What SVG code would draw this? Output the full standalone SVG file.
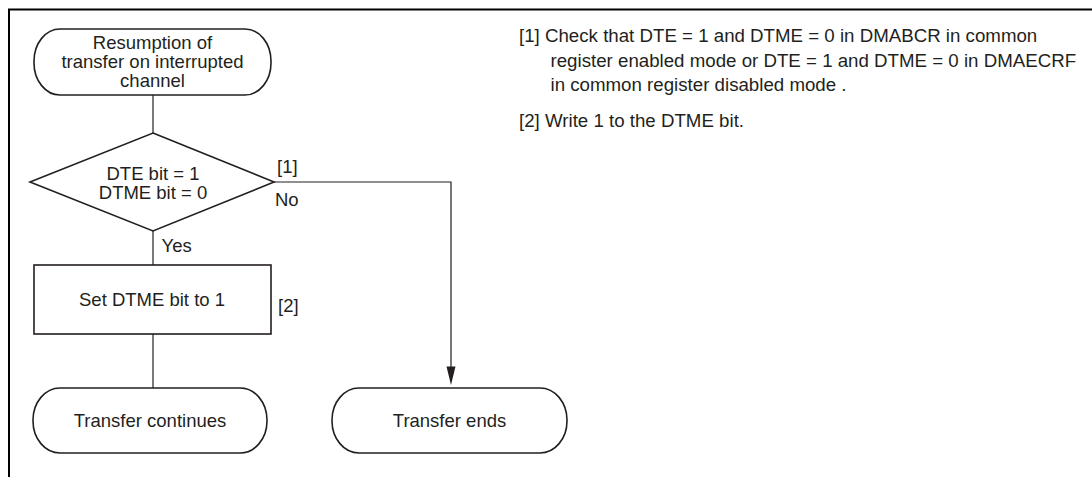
<svg xmlns="http://www.w3.org/2000/svg" width="1092" height="477" viewBox="0 0 1092 477">
<style>
text{font-family:"Liberation Sans",Arial,Helvetica,sans-serif;font-size:18.5px;fill:#231f20}
.c{text-anchor:middle}
.n{font-size:18.7px}
.shape{fill:#fff;stroke:#231f20;stroke-width:1.6}
.ln{fill:none;stroke:#231f20;stroke-width:1.2}
</style>
<rect width="1092" height="477" fill="#fff"/>
<path d="M9,477 V9.5 H1092" fill="none" stroke="#000" stroke-width="2"/>
<g id="connectors">
<line class="ln" x1="153" y1="95" x2="153" y2="133"/>
<line class="ln" x1="153" y1="231" x2="153" y2="265"/>
<line class="ln" x1="153" y1="334" x2="153" y2="388"/>
<path class="ln" d="M274,182 H451 V367"/>
<path d="M446.5,366.5 L455.5,366.5 L451,385 Z" fill="#231f20"/>
</g>
<g id="start">
<rect class="shape" x="34" y="29" width="237" height="66" rx="26" ry="32"/>
<text class="c" x="152.5" y="49">Resumption of</text>
<text class="c" x="152.5" y="68">transfer on interrupted</text>
<text class="c" x="152.5" y="87">channel</text>
</g>
<g id="decision">
<polygon class="shape" points="153,133 274,182 153,231 30,182"/>
<text class="c" x="153" y="179.5">DTE bit = 1</text>
<text class="c" x="153" y="198.5">DTME bit = 0</text>
<text x="277" y="173">[1]</text>
<text x="275" y="206">No</text>
<text x="161.5" y="251.5">Yes</text>
</g>
<g id="set">
<rect class="shape" x="34" y="265" width="237" height="69"/>
<text class="c" x="152" y="306">Set DTME bit to 1</text>
<text x="278" y="312">[2]</text>
</g>
<g id="continues">
<rect class="shape" x="33" y="388" width="234" height="65" rx="27" ry="32"/>
<text class="c" x="150" y="427">Transfer continues</text>
</g>
<g id="ends">
<rect class="shape" x="332" y="388" width="235" height="65" rx="27" ry="32"/>
<text class="c" x="449.5" y="427">Transfer ends</text>
</g>
<g id="notes">
<text class="n" x="519" y="41.7">[1] Check that DTE = 1 and DTME = 0 in DMABCR in common</text>
<text class="n" x="550.5" y="66.7">register enabled mode or DTE = 1 and DTME = 0 in DMAECRF</text>
<text class="n" x="550.5" y="91">in common register disabled mode .</text>
<text class="n" x="519" y="126.7">[2] Write 1 to the DTME bit.</text>
</g>
</svg>
